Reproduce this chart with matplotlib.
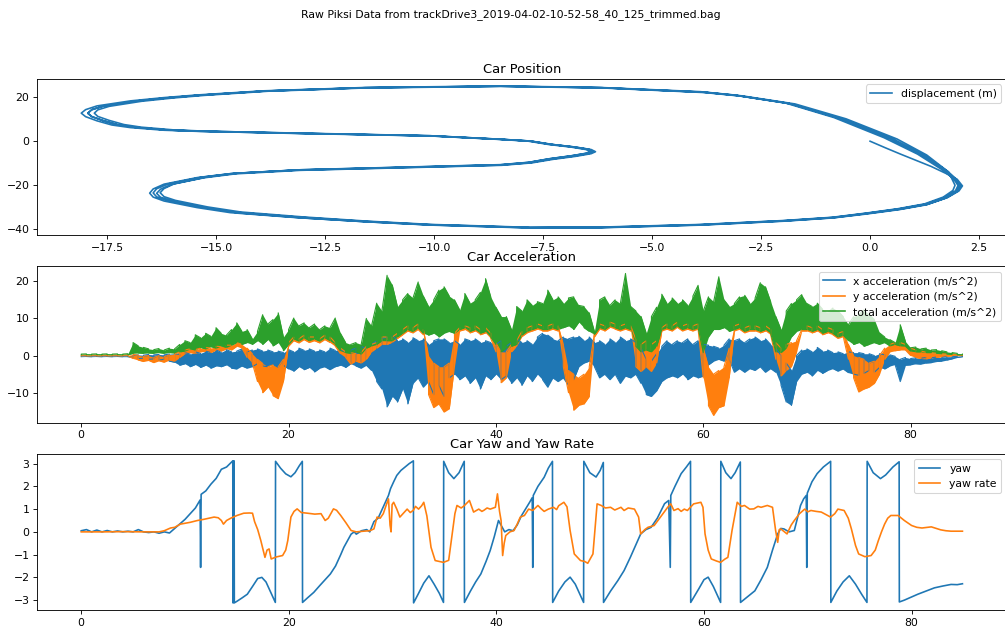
import numpy as np
import matplotlib
matplotlib.use("Agg")
import matplotlib.pyplot as plt

# ---------------- Car position (m) ----------------
start_x = [0.0, 0.35, 0.70, 1.05, 1.40, 1.75]
start_y = [0.0, -3.0, -5.9, -8.7, -11.5, -14.8]

lap1_x = [2.00, 2.12, 2.04, 1.78, 1.32, 0.70, -0.06, -0.83, -1.97, -3.89, -6.18, -7.80, -10.10, -11.62, -13.15, -14.68,
          -15.44, -16.20, -16.45, -16.53, -16.45, -16.20, -15.44, -14.68, -13.15, -10.10, -8.48, -7.80, -7.33, -6.80,
          -6.45, -6.34, -6.45, -6.80, -7.33, -7.80, -8.48, -10.10, -13.15, -15.44, -16.20, -16.97, -17.40, -17.74,
          -18.00, -18.10, -18.00, -17.74, -16.97, -16.20, -15.44, -13.90, -11.60, -8.48, -6.18, -3.89, -3.12, -1.97,
          -0.83, 0.32, 1.09, 1.70]
lap1_y = [-17.4, -20.4, -22.7, -25.7, -28.8, -31.0, -33.0, -34.9, -36.4, -38.2, -39.4, -39.5, -38.2, -36.7, -34.9,
          -32.6, -30.3, -27.3, -25.5, -23.7, -21.8, -19.6, -16.6, -14.8, -13.2, -11.7, -10.9, -9.8, -8.2, -6.8, -5.6,
          -4.7, -3.7, -2.6, -1.4, 0.1, 0.9, 2.5, 3.6, 4.5, 5.0, 6.2, 7.4, 9.3, 11.2, 12.8, 14.4, 16.1, 18.4, 19.9,
          21.1, 23.0, 24.5, 25.2, 24.5, 22.6, 21.1, 17.6, 10.8, 1.6, -5.9, -13.6]

lap2_x = [1.92, 2.02, 1.96, 1.72, 1.28, 0.66, -0.08, -0.85, -1.98, -3.90, -6.18, -7.80, -10.08, -11.58, -13.08, -14.58,
          -15.34, -16.10, -16.37, -16.45, -16.37, -16.10, -15.36, -14.62, -13.12, -10.10, -8.50, -7.84, -7.38, -6.86,
          -6.52, -6.42, -6.52, -6.86, -7.38, -7.84, -8.50, -10.10, -13.10, -15.36, -16.10, -16.85, -17.26, -17.60,
          -17.86, -17.95, -17.86, -17.60, -16.85, -16.10, -15.36, -13.86, -11.58, -8.48, -6.16, -3.84, -3.04, -1.86,
          -0.70, 0.45, 1.18, 1.75]
lap2_y = [-17.3, -20.2, -22.6, -25.6, -28.7, -30.9, -32.9, -34.8, -36.3, -38.1, -39.3, -39.4, -38.1, -36.6, -34.7,
          -32.4, -30.1, -27.1, -25.4, -23.6, -21.7, -19.5, -16.5, -14.7, -13.1, -11.6, -10.8, -9.7, -8.1, -6.7, -5.5,
          -4.7, -3.8, -2.7, -1.5, 0.0, 0.8, 2.4, 3.5, 4.5, 5.1, 6.3, 7.5, 9.4, 11.2, 12.7, 14.3, 16.0, 18.3, 19.8,
          21.0, 22.9, 24.4, 25.1, 24.4, 22.4, 20.8, 17.2, 10.4, 1.2, -6.2, -13.8]

lap3_x = [1.97, 2.08, 2.00, 1.75, 1.30, 0.68, -0.07, -0.84, -1.97, -3.89, -6.18, -7.80, -10.06, -11.55, -13.02, -14.50,
          -15.26, -16.00, -16.28, -16.37, -16.28, -16.02, -15.28, -14.56, -13.08, -10.08, -8.45, -7.76, -7.28, -6.75,
          -6.40, -6.30, -6.40, -6.75, -7.28, -7.76, -8.45, -10.08, -13.06, -15.28, -16.00, -16.72, -17.12, -17.46,
          -17.72, -17.80, -17.72, -17.46, -16.72, -16.00, -15.28, -13.82, -11.56, -8.48, -6.15, -3.80, -2.98, -1.78,
          -0.62, 0.55, 1.25, 1.80]
lap3_y = [-17.5, -20.5, -22.9, -25.9, -29.0, -31.2, -33.2, -35.0, -36.5, -38.3, -39.5, -39.6, -38.3, -36.8, -35.0,
          -32.7, -30.4, -27.4, -25.6, -23.8, -21.9, -19.7, -16.7, -14.9, -13.3, -11.8, -11.0, -9.9, -8.3, -6.9, -5.7,
          -4.8, -3.8, -2.7, -1.5, 0.0, 0.8, 2.4, 3.6, 4.6, 5.2, 6.4, 7.6, 9.5, 11.3, 12.8, 14.3, 15.9, 18.2, 19.7,
          20.9, 22.8, 24.3, 25.0, 24.3, 22.2, 20.6, 16.9, 10.0, 0.8, -6.5, -14.0]

lap4_x = [1.88, 1.95, 1.90, 1.68, 1.25, 0.64, -0.09, -0.86, -1.99, -3.90, -6.19, -7.80, -10.05, -11.52, -12.98, -14.44,
          -15.20, -15.94, -16.20, -16.29, -16.20, -15.96, -15.24, -14.52, -13.04, -10.06, -8.48, -7.82, -7.36, -6.84,
          -6.49, -6.38, -6.49, -6.84, -7.36, -7.82, -8.48, -10.08, -13.12, -15.38, -16.12, -16.86, -17.28, -17.60,
          -17.86, -17.95, -17.86, -17.60, -16.86, -16.12, -15.38, -13.88, -11.60, -8.48, -6.14, -3.78, -2.94, -1.72,
          -0.55, 0.62, 1.30, 1.78]
lap4_y = [-17.2, -20.1, -22.5, -25.5, -28.6, -30.8, -32.8, -34.7, -36.2, -38.0, -39.2, -39.3, -38.0, -36.5, -34.6,
          -32.3, -30.0, -27.0, -25.3, -23.5, -21.6, -19.4, -16.4, -14.6, -13.0, -11.5, -10.7, -9.6, -8.0, -6.6, -5.5,
          -4.6, -3.7, -2.6, -1.4, 0.1, 0.9, 2.5, 3.7, 4.6, 5.1, 6.3, 7.5, 9.4, 11.3, 12.8, 14.4, 16.0, 18.3, 19.8,
          21.0, 22.9, 24.4, 25.1, 24.4, 22.3, 20.7, 17.0, 10.2, 1.0, -6.3, -13.7]

end_x = [1.98, 2.05, 1.98]
end_y = [-17.3, -20.3, -22.8]

# ---------------- Acceleration (m/s^2): band edges read every 0.5 s ----------------
acc_t = [i * 0.5 for i in range(171)]
ax_lo = [-0.3, -0.25, -0.3, -0.25, -0.3, -0.25, -0.3, -0.25, -0.3, -0.3,
         -0.5, -0.8, -0.7, -1.0, -0.9, -1.2, -1.0, -1.5, -1.8, -2.6,
         -2.2, -3.0, -2.4, -3.2, -2.6, -3.4, -2.8, -3.0, -2.5, -3.4,
         -3.6, -2.8, -3.4, -3.0, -2.2, -2.8, -3.0, -2.4, -3.2, -2.6,
         -3.6, -4.2, -3.0, -3.8, -3.2, -4.4, -3.4, -3.0, -3.8, -3.0,
         -2.6, -3.2, -2.2, -2.8, -3.4, -2.6, -4.0, -7.0, -9.0, -13.8,
         -11.0, -12.5, -9.0, -13.0, -7.5, -6.0, -8.5, -7.0, -10.5, -8.0,
         -11.0, -6.0, -5.0, -6.5, -5.5, -7.5, -6.0, -9.0, -5.5, -6.5,
         -5.0, -6.5, -5.5, -7.5, -6.0, -8.0, -5.5, -7.0, -5.0, -6.5,
         -8.5, -6.0, -7.0, -6.0, -8.0, -6.5, -3.0, -2.0, -1.5, -3.0,
         -6.0, -5.0, -6.5, -5.0, -7.5, -5.5, -6.0, -5.0, -7.5, -10.5,
         -11.0, -9.5, -7.0, -6.0, -5.5, -6.0, -5.0, -6.5, -5.5, -6.0,
         -5.5, -2.5, -1.5, -1.0, -1.5, -1.0, -4.5, -3.5, -4.5, -3.5,
         -4.0, -3.0, -4.5, -3.5, -4.5, -8.0, -12.5, -13.4, -7.0, -5.0,
         -4.5, -5.5, -4.0, -4.8, -4.0, -3.5, -4.2, -3.6, -4.6, -5.0,
         -5.3, -4.8, -4.0, -4.5, -3.2, -3.6, -2.8, -2.4, -7.0, -2.6,
         -2.5, -2.2, -2.3, -2.0, -1.9, -1.6, -1.5, -1.2, -0.9, -0.5,
         -0.3]
ax_hi = [-0.1, -0.05, -0.1, -0.05, -0.1, -0.05, -0.1, -0.05, -0.1, -0.1,
         0.1, 0.2, 0.1, 0.3, 0.2, 0.3, 0.2, 0.4, 0.5, 0.3,
         0.8, 0.4, 1.0, 0.6, 1.2, 0.8, 1.5, 0.9, 1.6, 1.0,
         1.2, 1.8, 1.0, 1.5, 1.8, 1.2, 1.5, 1.0, 1.2, 0.8,
         1.6, 1.0, 2.0, 1.4, 1.8, 1.2, 1.5, 1.0, 2.0, 1.4,
         1.6, 1.0, 1.5, 2.0, 2.5, 1.8, 3.0, 4.0, 4.5, 5.0,
         5.5, 4.0, 4.5, 3.5, 4.8, 4.0, 4.5, 3.0, 4.0, 4.5,
         4.5, 3.5, 4.0, 3.0, 4.5, 4.0, 4.5, 3.5, 4.0, 3.5,
         3.0, 4.0, 2.5, 3.5, 4.5, 3.5, 4.0, 3.0, 5.0, 6.0,
         5.5, 4.5, 4.0, 5.0, 4.5, 5.0, 5.2, 4.0, 5.0, 3.5,
         4.0, 3.0, 4.5, 3.5, 5.0, 4.0, 4.5, 3.5, 2.0, -1.0,
         -1.5, 0.5, 2.5, 4.0, 3.0, 4.0, 3.5, 4.5, 3.0, 4.0,
         3.0, 2.8, 2.5, 2.0, 2.8, 4.5, 4.0, 4.5, 3.5, 4.5,
         5.0, 4.0, 4.5, 3.0, 2.0, 0.0, -2.0, -4.0, 0.0, 1.5,
         1.8, 1.0, 2.2, 1.2, 1.5, 0.8, 1.0, 0.5, 1.0, 0.8,
         0.8, 0.5, 0.5, 0.0, 0.5, 0.2, 0.2, -0.2, -1.0, -0.5,
         -0.8, -0.6, -0.7, -0.5, -0.6, -0.4, -0.5, -0.3, -0.3, -0.2,
         -0.2]
ay_lo = [-0.1, -0.1, -0.1, -0.1, -0.1, -0.1, -0.1, -0.1, -0.1, -0.1,
         -0.8, -1.2, -1.6, -1.3, -1.9, -1.4, -1.8, -1.2, -1.5, -0.5,
         0.5, 0.8, 0.6, 1.0, 1.2, 0.8, 1.5, 1.2, 1.8, 1.5,
         2.5, 2.0, -0.5, -2.0, -7.0, -10.0, -8.5, -10.8, -11.6, -7.0,
         2.5, 4.0, 3.4, 4.3, 3.5, 4.0, 3.4, 4.3, 3.5, 2.5,
         0.5, -0.5, -2.3, -1.5, -2.0, -1.0, 1.0, 2.0, 3.0, 3.0,
         3.6, 4.6, 5.6, 6.6, 6.1, 7.0, 5.6, -10.5, -14.0, -13.0,
         -15.2, -14.3, -3.0, 6.6, 7.0, 6.1, 6.6, 5.6, 6.1, 4.6,
         1.0, -7.3, -6.0, 1.0, 2.6, 5.1, 6.1, 6.6, 7.1, 6.6,
         6.6, 7.1, 6.6, -3.0, -10.0, -14.7, -13.4, -13.0, -11.0, 5.0,
         7.1, 6.6, 7.6, 7.1, 6.6, 7.1, 6.6, -3.0, -4.3, -3.0,
         -4.3, -2.0, 6.6, 7.1, 6.6, 7.6, 6.6, 7.1, 6.6, 7.1,
         -6.0, -13.5, -16.1, -14.0, -13.5, -6.0, 6.6, 7.1, 6.1, 6.6,
         6.6, 6.1, 6.6, 5.6, -1.0, -5.5, -4.0, -3.0, 1.0, 6.6,
         6.6, 6.1, 6.6, 5.6, 6.1, 5.6, 4.6, 5.1, -1.0, -6.0,
         -9.8, -9.0, -8.5, -7.5, -5.0, -1.0, 1.0, 1.3, 1.5, 1.5,
         0.0, -0.5, -0.8, -0.9, -0.6, -0.5, -0.3, -0.2, -0.1, 0.0,
         0.0]
ay_hi = [0.1, 0.1, 0.1, 0.1, 0.1, 0.1, 0.1, 0.1, 0.1, 0.1,
         0.3, 0.1, -0.2, 0.0, -0.5, 0.0, -0.3, 0.2, 0.4, 1.0,
         1.5, 1.8, 1.6, 2.0, 2.2, 2.0, 2.5, 2.4, 2.8, 2.8,
         3.5, 3.0, 2.0, 0.5, -1.0, -2.1, -3.0, -2.5, -3.0, -1.0,
         3.5, 5.0, 4.5, 5.5, 5.0, 5.0, 4.5, 5.5, 5.0, 3.5,
         2.0, 1.0, 0.8, 0.5, 0.8, 2.5, 3.0, 3.5, 5.0, 5.0,
         5.0, 6.0, 7.0, 8.0, 7.5, 8.5, 7.0, 0.0, -2.0, -3.0,
         -3.0, -2.0, 6.0, 7.5, 8.0, 7.5, 8.0, 7.0, 7.5, 6.0,
         3.4, 1.0, 1.0, 3.0, 4.0, 6.5, 7.5, 8.0, 8.5, 8.0,
         8.0, 8.5, 8.0, 3.0, -4.0, -5.0, -6.0, -5.0, -3.0, 6.0,
         8.5, 8.0, 9.0, 8.5, 8.0, 8.5, 8.0, 4.3, 3.0, 4.0,
         3.0, 4.0, 7.5, 8.5, 8.0, 9.0, 8.0, 8.5, 8.0, 8.5,
         2.0, -3.0, -5.0, -4.0, -3.0, 2.0, 8.0, 8.5, 7.5, 8.0,
         8.0, 7.5, 8.0, 7.0, 3.5, 2.0, 3.0, 3.5, 4.0, 7.0,
         8.0, 7.5, 8.0, 7.0, 7.5, 7.0, 6.0, 6.5, 3.0, 0.0,
         -0.5, -1.0, -2.0, -1.5, 0.0, 2.0, 3.0, 3.5, 3.5, 3.0,
         2.0, 1.5, 1.2, 0.9, 0.8, 0.6, 0.5, 0.4, 0.3, 0.2,
         0.1]
ag_lo = [0.2, 0.25, 0.2, 0.25, 0.2, 0.25, 0.2, 0.25, 0.2, 0.2,
         0.6, 0.7, 0.6, 0.7, 0.6, 0.8, 0.6, 0.8, 0.7, 1.0,
         1.2, 1.8, 1.5, 2.2, 1.8, 2.4, 2.0, 2.6, 2.2, 2.8,
         3.5, 3.0, 3.5, 3.0, 4.0, 3.0, 4.3, 2.6, 3.5, 1.3,
         3.0, 4.5, 3.9, 4.8, 4.0, 4.5, 3.9, 4.8, 4.0, 3.0,
         1.3, 0.8, 0.6, 1.0, 0.4, 2.0, 2.6, 3.0, 4.0, 4.0,
         4.0, 5.0, 6.0, 7.0, 6.5, 7.5, 6.0, 5.5, 6.0, 5.0,
         6.0, 6.5, 6.0, 7.0, 7.5, 6.5, 7.0, 6.0, 6.5, 5.0,
         3.0, 1.0, 2.0, 2.5, 3.0, 5.5, 6.5, 7.0, 7.5, 7.0,
         7.0, 7.5, 7.0, 7.5, 8.0, 7.0, 9.0, 7.5, 6.5, 5.7,
         7.5, 7.0, 8.0, 7.5, 7.0, 7.5, 7.0, 2.5, 1.0, 1.5,
         1.0, 2.5, 7.0, 7.5, 7.0, 8.0, 7.0, 7.5, 7.0, 7.5,
         0.8, 5.0, 7.0, 7.0, 7.5, 6.5, 7.0, 7.5, 6.5, 7.0,
         7.0, 6.5, 7.0, 6.0, 1.0, 0.8, 2.0, 5.0, 6.5, 7.0,
         7.0, 6.5, 7.0, 6.0, 6.5, 6.0, 5.0, 5.5, 4.0, 3.0,
         3.5, 2.5, 3.0, 3.5, 3.0, 3.5, 2.6, 3.0, 2.6, 2.5,
         1.2, 1.0, 1.0, 0.8, 0.8, 0.6, 0.5, 0.4, 0.3, 0.2,
         0.2]
ag_hi = [0.4, 0.45, 0.4, 0.45, 0.4, 0.45, 0.4, 0.45, 0.4, 0.5,
         3.5, 2.6, 2.2, 1.8, 1.6, 1.9, 1.5, 2.0, 1.8, 3.0,
         4.0, 3.5, 5.6, 4.8, 6.0, 5.2, 7.5, 6.0, 5.5, 7.0,
         8.8, 6.5, 7.0, 4.5, 6.5, 11.0, 8.5, 9.7, 11.5, 5.0,
         7.0, 10.1, 8.0, 8.8, 7.5, 8.5, 7.0, 8.0, 7.5, 10.1,
         6.0, 3.5, 3.0, 3.5, 3.0, 10.0, 8.0, 14.1, 12.0, 21.6,
         19.0, 13.2, 15.0, 16.7, 15.5, 19.8, 16.0, 13.2, 15.0, 17.6,
         18.5, 16.0, 15.0, 12.3, 16.7, 14.1, 15.0, 17.0, 20.7, 15.8,
         13.0, 10.5, 10.5, 7.0, 13.2, 12.0, 15.0, 13.5, 14.5, 14.0,
         17.6, 15.0, 15.8, 14.0, 15.5, 15.8, 13.5, 13.2, 11.5, 6.5,
         15.0, 15.8, 13.5, 15.0, 14.0, 22.1, 13.2, 12.0, 10.5, 6.0,
         10.5, 13.0, 16.5, 14.0, 15.5, 14.0, 15.0, 13.5, 16.0, 18.9,
         12.0, 15.8, 14.5, 21.2, 15.0, 13.2, 14.0, 15.8, 16.2, 14.0,
         15.5, 19.6, 18.5, 14.5, 10.5, 7.0, 12.0, 14.0, 15.0, 16.4,
         14.0, 13.2, 14.1, 12.5, 11.5, 12.8, 12.0, 10.5, 8.3, 10.5,
         11.0, 12.3, 11.0, 9.7, 6.1, 5.0, 4.3, 3.5, 8.3, 3.8,
         2.1, 2.3, 1.8, 2.0, 1.5, 1.6, 1.3, 1.0, 0.8, 0.6,
         0.4]

# ---------------- Yaw (rad) and yaw rate (rad/s) ----------------
yaw_t = [0.0, 0.5, 1.0, 1.5, 2.0, 2.5, 3.0, 3.5, 4.0, 4.5, 5.0, 5.5, 6.0, 6.5, 7.0, 7.5, 8.0, 8.5, 9.0, 9.5,
         10.0, 10.5, 11.0, 11.45, 11.5, 11.55, 12.0, 12.5, 13.0, 13.5, 14.0, 14.5, 14.6, 14.62, 14.65, 14.68,
         14.72, 14.75, 15.0, 15.5, 16.0, 16.5, 17.0, 17.4, 17.8, 18.3, 18.7, 18.72, 19.2, 19.7, 20.2, 20.6,
         21.0, 21.3, 21.32, 21.8, 22.4, 23.0, 23.5, 24.0, 24.5, 25.0, 25.3, 25.7, 26.0, 26.3, 26.5, 27.0,
         27.5, 27.8, 28.2, 28.6, 29.0, 29.3, 29.6, 29.8, 30.1, 30.4, 30.8, 31.2, 31.6, 32.0, 32.02, 32.5,
         33.0, 33.5, 34.0, 34.5, 34.9, 34.92, 35.4, 35.9, 36.4, 36.9, 36.92, 37.5, 38.0, 38.5, 39.0, 39.4,
         39.8, 40.2, 40.5, 40.8, 41.2, 41.6, 42.0, 42.4, 42.8, 43.2, 43.45, 43.5, 43.55, 44.0, 44.6, 45.0,
         45.4, 45.42, 46.0, 46.6, 47.1, 47.6, 48.0, 48.4, 48.42, 49.0, 49.6, 50.0, 50.3, 50.32, 51.0, 51.7,
         52.3, 52.9, 53.4, 53.9, 54.4, 54.9, 55.5, 56.2, 56.6, 56.75, 56.8, 57.2, 57.8, 58.3, 58.7, 58.72,
         59.5, 60.0, 60.4, 60.9, 61.3, 61.6, 61.62, 62.1, 62.6, 63.0, 63.5, 63.52, 64.2, 64.9, 65.5, 66.1,
         66.6, 67.1, 67.4, 67.7, 68.2, 68.7, 69.0, 69.3, 69.6, 69.85, 69.9, 69.95, 70.4, 70.9, 71.5, 72.2,
         72.22, 72.8, 73.4, 74.0, 74.6, 75.2, 75.7, 75.72, 76.3, 77.0, 77.5, 78.2, 78.8, 78.82, 79.3, 79.8,
         80.6, 81.4, 82.2, 83.0, 83.8, 84.4, 84.9]
yaw_v = [0.05, 0.10, 0.00, 0.08, 0.00, 0.06, 0.00, 0.04, 0.00, 0.03, 0.00, 0.10, 0.00, -0.03, 0.00, -0.06,
         0.00, -0.05, 0.15, 0.35, 0.55, 0.80, 1.05, 1.40, -1.56, 1.65, 1.80, 2.10, 2.35, 2.75, 2.85, 3.07,
         3.12, -3.12, 3.10, -3.10, 3.12, -3.12, -3.05, -2.90, -2.74, -2.40, -2.05, -2.00, -2.20, -2.70,
         -3.10, 3.10, 2.80, 2.55, 2.42, 2.60, 2.90, 3.10, -3.10, -2.90, -2.66, -2.35, -2.10, -1.85, -1.50,
         -1.00, -0.68, -0.35, -0.10, 0.00, -0.10, 0.05, 0.10, 0.00, 0.45, 0.60, 1.00, 1.30, 1.60, 1.90,
         2.20, 2.48, 2.70, 2.85, 3.00, 3.12, -3.12, -2.70, -2.25, -1.93, -2.30, -2.70, -3.10, 3.10, 2.60,
         2.34, 2.60, 3.10, -3.10, -2.60, -2.20, -1.85, -1.30, -0.82, -0.20, 0.50, 0.25, 0.00, 0.10, 0.05,
         0.30, 0.70, 1.00, 1.30, 1.50, -1.56, 1.60, 2.00, 2.40, 2.80, 3.10, -3.10, -2.60, -2.20, -1.99,
         -2.30, -2.70, -3.10, 3.10, 2.60, 2.41, 2.70, 3.05, -3.10, -2.60, -2.14, -1.70, -1.12, -0.60, -0.09,
         0.10, 0.20, 0.60, 1.24, 1.38, -1.56, 1.60, 2.00, 2.56, 2.85, 3.10, -3.10, -2.50, -2.10, -1.99,
         -2.40, -2.80, -3.10, 3.10, 2.60, 2.34, 2.60, 3.07, -3.10, -2.85, -2.59, -2.10, -1.56, -0.80, -0.09,
         0.15, 0.13, 0.00, 0.06, 0.60, 1.16, 1.45, 1.60, -1.56, 1.70, 2.20, 2.56, 2.85, 3.10, -3.10, -2.60,
         -2.20, -1.93, -2.30, -2.75, -3.10, 3.10, 2.60, 2.34, 2.50, 2.85, 3.08, -3.08, -3.00, -2.90, -2.74,
         -2.60, -2.46, -2.38, -2.31, -2.32, -2.28]

rate_t = [0.0, 2.0, 4.0, 6.0, 7.5, 8.0, 8.6, 9.0, 9.55, 10.0, 10.5, 11.2, 11.8, 12.3, 12.8, 13.2, 13.5, 13.7,
          14.0, 14.4, 15.0, 15.65, 16.2, 16.5, 16.7, 17.0, 17.3, 17.7, 17.9, 18.1, 18.3, 18.8, 19.4, 19.7,
          19.9, 20.2, 20.5, 20.8, 21.2, 21.8, 22.5, 23.1, 23.5, 23.8, 24.3, 24.6, 25.0, 25.5, 26.0, 26.5,
          27.2, 27.8, 28.2, 28.5, 28.8, 29.1, 29.4, 29.6, 29.75, 29.85, 29.95, 30.1, 30.4, 30.7, 31.0, 31.4,
          31.7, 32.0, 32.2, 32.5, 32.8, 33.0, 33.3, 33.7, 34.1, 34.5, 34.9, 35.4, 35.7, 36.0, 36.2, 36.6,
          36.9, 37.4, 37.8, 38.3, 38.6, 38.8, 39.1, 39.4, 39.9, 40.1, 40.3, 40.45, 40.6, 40.75, 40.9, 41.3,
          41.7, 42.0, 42.3, 42.7, 43.1, 43.5, 44.0, 44.3, 44.6, 45.0, 45.5, 45.8, 46.0, 46.5, 46.8, 47.1,
          47.5, 48.1, 48.5, 48.8, 49.3, 49.7, 50.1, 50.5, 51.0, 51.4, 52.0, 52.3, 52.7, 53.3, 53.7, 53.9,
          54.3, 54.6, 55.2, 55.8, 56.2, 56.5, 56.8, 57.1, 57.5, 57.8, 58.1, 58.4, 59.0, 59.7, 59.9, 60.1,
          60.4, 60.7, 61.2, 61.6, 62.0, 62.3, 62.7, 63.2, 63.6, 63.9, 64.4, 64.8, 65.2, 65.5, 66.1, 66.6,
          66.9, 67.1, 67.25, 67.4, 68.0, 68.4, 68.7, 69.2, 69.7, 70.0, 70.3, 70.8, 71.3, 71.8, 72.2, 72.6,
          72.9, 73.5, 73.9, 74.2, 74.6, 74.9, 75.5, 76.1, 76.5, 76.8, 77.1, 77.4, 77.7, 78.0, 78.7, 79.3,
          80.0, 80.5, 81.0, 81.5, 81.9, 82.4, 82.8, 83.3, 83.8, 84.9]
rate_v = [0.00, 0.00, 0.01, 0.00, 0.00, 0.05, 0.17, 0.20, 0.34, 0.38, 0.42, 0.50, 0.55, 0.60, 0.65, 0.62, 0.50,
          0.34, 0.50, 0.60, 0.72, 0.82, 0.83, 0.82, 0.45, 0.10, -0.38, -1.12, -0.80, -0.75, -1.19, -1.10,
          -1.04, -0.80, -0.38, 0.65, 0.90, 1.01, 0.85, 0.82, 0.78, 0.80, 0.50, 0.60, 1.01, 0.95, 0.72, 0.40,
          0.06, 0.00, 0.03, 0.05, 0.13, 0.65, 0.60, 0.80, 1.20, 1.45, 0.30, 0.00, 1.20, 1.30, 1.00, 0.65,
          0.80, 1.00, 0.85, 0.95, 1.12, 1.00, 1.15, 1.30, 0.70, -0.68, -1.26, -1.30, -1.34, -1.25, -0.24,
          0.80, 1.16, 1.05, 1.15, 1.38, 0.87, 1.00, 0.90, 0.95, 1.05, 1.00, 1.08, 1.67, 0.90, 0.50, -1.04,
          -0.50, -0.16, 0.00, 0.06, 0.34, 0.65, 0.72, 1.00, 0.94, 1.16, 1.02, 0.90, 1.00, 1.08, 0.98, 1.15,
          1.30, 1.10, 0.06, -0.97, -1.26, -1.30, -1.38, -0.97, 1.23, 1.16, 1.05, 1.08, 0.96, 1.08, 0.94,
          1.05, 1.00, 0.65, -0.09, 0.10, 0.20, 0.28, 0.65, 0.90, 1.08, 1.23, 0.94, 1.02, 0.90, 1.00, 0.94,
          1.23, 1.30, 1.08, -0.09, -0.80, -1.19, -1.28, -1.34, -1.20, -1.12, 0.06, 1.30, 1.12, 1.16, 1.00,
          1.01, 1.12, 1.08, 1.16, 1.08, 0.06, -0.46, 0.10, 0.13, -0.09, 0.30, 0.50, 0.80, 1.00, 0.88, 0.94,
          0.90, 0.87, 0.75, 0.65, 0.80, 1.00, 0.94, 0.60, 0.13, -0.60, -0.97, -1.09, -1.04, -0.80, -0.38,
          0.00, 0.34, 0.60, 0.72, 0.72, 0.50, 0.28, 0.20, 0.17, 0.20, 0.22, 0.15, 0.09, 0.05, 0.03, 0.03]

TITLE = "Raw Piksi Data from trackDrive3_2019-04-02-10-52-58_40_125_trimmed.bag"
C0, C1, C2 = "#1f77b4", "#ff7f0e", "#2ca02c"

DPI = 78.5
fig = plt.figure(figsize=(1005 / DPI, 626 / DPI), dpi=DPI)
axs = fig.subplots(3, 1)
fig.subplots_adjust(left=0.037, right=1.0015, top=0.874, bottom=0.0256, hspace=0.2)
fig.suptitle(TITLE, fontsize=10, x=0.508, y=0.985)

# --- position ---
ax1 = axs[0]
pos_x = start_x + lap1_x + lap2_x + lap3_x + lap4_x + end_x
pos_y = start_y + lap1_y + lap2_y + lap3_y + lap4_y + end_y
ax1.plot(pos_x, pos_y, color=C0, lw=1.5, label="displacement (m)")
ax1.set_title("Car Position", pad=5)
ax1.legend(loc="upper right")


def band(ax, t, lo, hi, color, label):
    ax.fill_between(t, lo, hi, color=color, lw=0)
    zt, zv = [], []
    for i in range(len(t)):
        zt += [t[i], t[i]]
        zv += [lo[i], hi[i]] if i % 2 == 0 else [hi[i], lo[i]]
    ax.plot(zt, zv, color=color, lw=1.0, label=label)


ax2 = axs[1]
band(ax2, acc_t, ax_lo, ax_hi, C0, "x acceleration (m/s^2)")
band(ax2, acc_t, ay_lo, ay_hi, C1, "y acceleration (m/s^2)")
band(ax2, acc_t, ag_lo, ag_hi, C2, "total acceleration (m/s^2)")
ax2.set_title("Car Acceleration", pad=5)
leg = ax2.legend(loc="upper right")
for h in leg.get_lines():
    h.set_linewidth(1.5)

ax3 = axs[2]
ax3.plot(yaw_t, yaw_v, color=C0, lw=1.5, label="yaw")
ax3.plot(rate_t, rate_v, color=C1, lw=1.5, label="yaw rate")
ax3.set_title("Car Yaw and Yaw Rate", pad=5)
ax3.legend(loc="upper right")

fig.savefig("out.png", dpi=DPI)
